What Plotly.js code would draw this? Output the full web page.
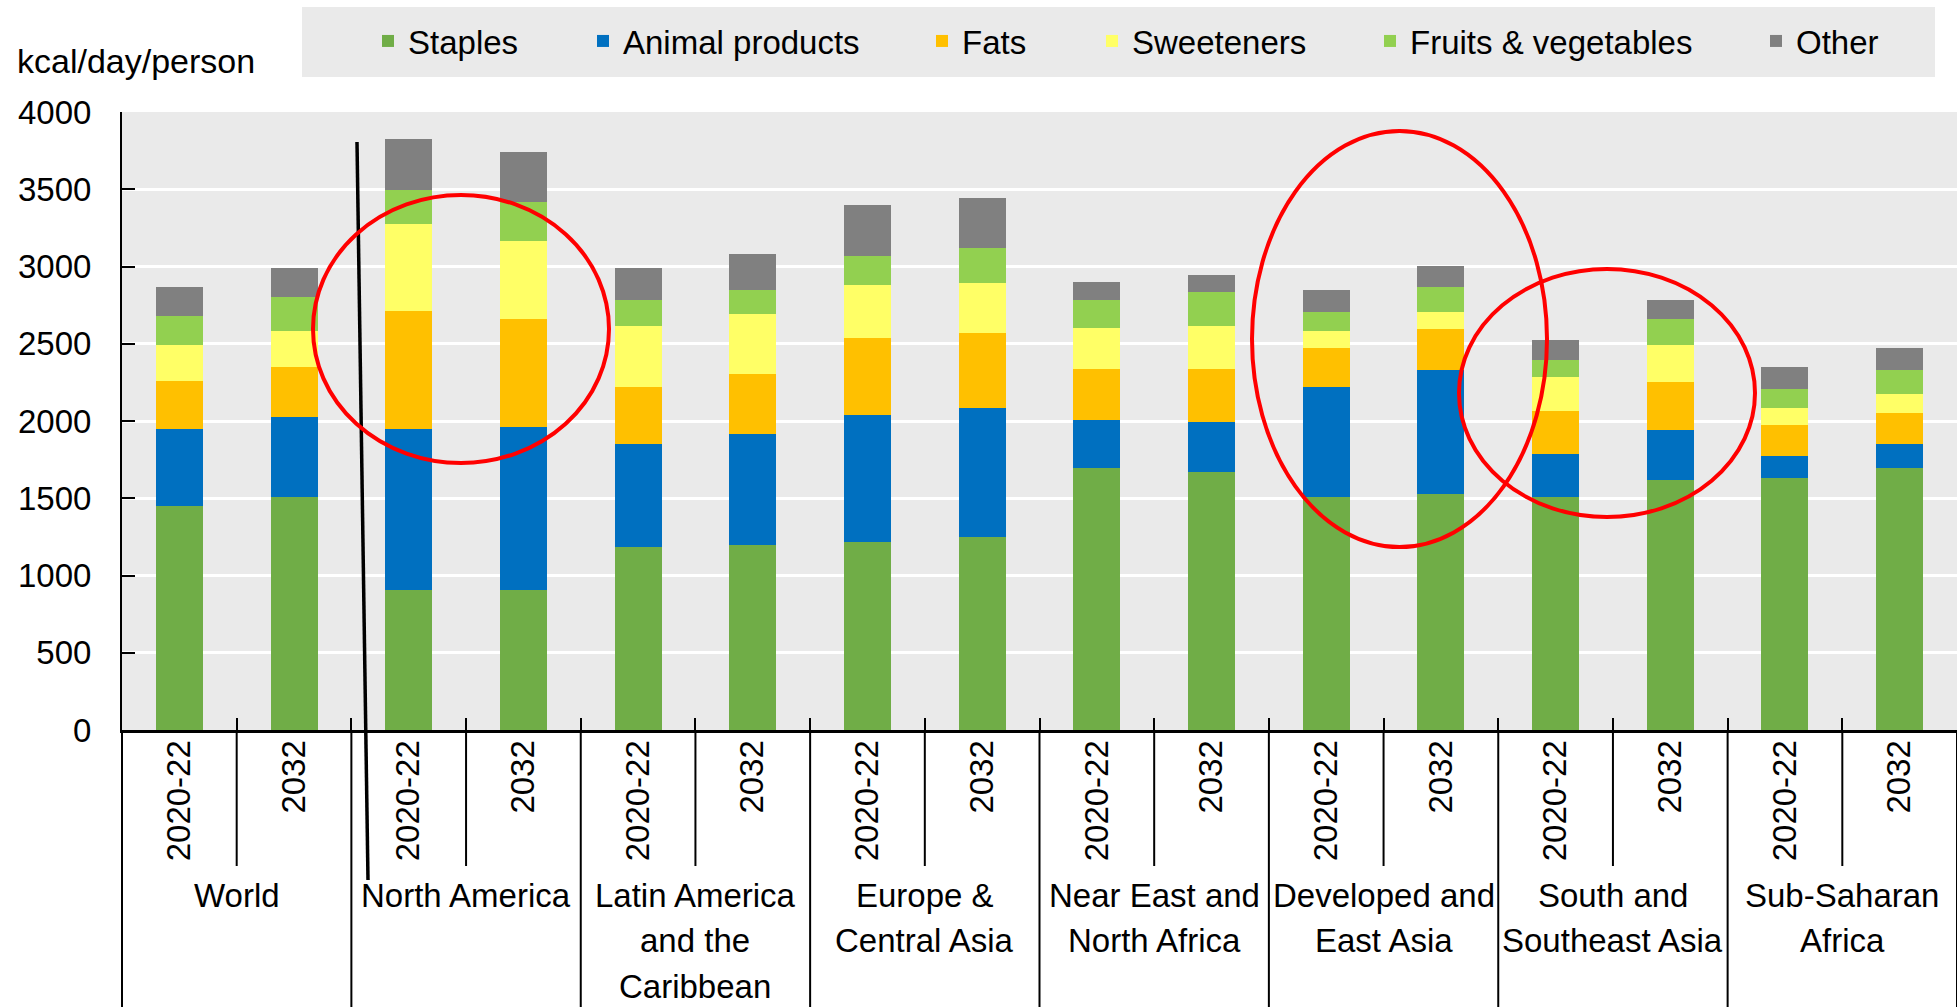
<!DOCTYPE html>
<html>
<head>
<meta charset="utf-8">
<script src="https://cdn.plot.ly/plotly-3.0.1.min.js"></script>
<style>html,body{margin:0;padding:0;background:#fff;}#chart{width:1957px;height:1007px;}</style>
</head>
<body>
<div id="chart"></div>
<script>
// ---- data ----
const regions = ['World','North America','Latin America<br>and the<br>Caribbean','Europe &<br>Central Asia','Near East and<br>North Africa','Developed and<br>East Asia','South and<br>Southeast Asia','Sub-Saharan<br>Africa'];
const periods = ['2020-22','2032'];
const seriesNames = ['Staples','Animal products','Fats','Sweeteners','Fruits & vegetables','Other'];
const staples = [1450,1510, 903,903, 1187,1200, 1215,1247, 1698,1667, 1510,1527, 1510,1619, 1634,1699];
const animal  = [498,516, 1043,1058, 667,713, 823,839, 308,325, 713,806, 279,326, 141,152];
const fats    = [310,325, 764,702, 369,390, 499,483, 329,343, 249,264, 278,310, 201,204];
const sweet   = [234,234, 564,503, 392,390, 344,325, 265,280, 110,111, 219,236, 108,120];
const fruits  = [188,219, 221,251, 171,158, 188,223, 186,218, 126,158, 110,171, 124,158];
const other   = [190,188, 329,327, 205,233, 329,329, 112,111, 140,140, 126,124, 140,139];
const yTicks = [0,500,1000,1500,2000,2500,3000,3500,4000];

// ---- styles ----
const colors = ['#70AD47','#0070C0','#FFC000','#FFFF66','#92D050','#808080'];
const FONT = "'Liberation Sans',Arial,sans-serif";
const FS = 33;
const W = 1957, H = 1007;
const L = 122, R = 0, T = 112, B = 277;
const PW = W - L - R, PH = H - T - B;
const px2x = p => (p - L) / PW;
const py2y = p => (H - B - p) / PH;

// unique category keys (region | period), shown with the period as tick text
const keys = [], keyText = [];
regions.forEach(r => periods.forEach(p => { keys.push(r + '|' + p); keyText.push(p); }));

const values = [staples, animal, fats, sweet, fruits, other];
const legendCenters = [388, 603, 942, 1112, 1390, 1776];
const traces = values.map((v, i) => ({
  type: 'bar',
  name: seriesNames[i],
  x: keys,
  y: v,
  marker: {color: colors[i], line: {width: 0}},
  legend: i === 0 ? 'legend' : 'legend' + (i + 1),
  hoverinfo: 'name+y'
}));

const layout = {
  width: W, height: H,
  margin: {l: L, r: R, t: T, b: B, pad: 0},
  paper_bgcolor: '#ffffff',
  plot_bgcolor: '#EAEAEA',
  barmode: 'stack',
  bargap: 0.59,
  showlegend: true,
  font: {family: FONT, size: FS, color: '#000'},
  xaxis: {
    type: 'category',
    tickvals: keys, ticktext: keyText,
    tickson: 'boundaries',
    showline: true, linecolor: '#000', linewidth: 3,
    ticks: 'inside', ticklen: 12, tickwidth: 2, tickcolor: '#000',
    tickangle: -90,
    ticklabelstandoff: -6,
    tickfont: {family: FONT, size: FS, color: '#000'},
    showgrid: false, zeroline: false
  },
  yaxis: {
    range: [0, 4000], tickvals: yTicks, ticktext: yTicks.map(String),
    showline: true, linecolor: '#000', linewidth: 2,
    ticks: 'inside', ticklen: 13, tickwidth: 2, tickcolor: '#000',
    gridcolor: '#ffffff', gridwidth: 3,
    zeroline: false,
    ticklabelstandoff: 22,
    tickfont: {family: FONT, size: FS, color: '#000'}
  },
  annotations: [{
    xref: 'paper', yref: 'paper', x: px2x(15), y: py2y(61),
    xanchor: 'left', yanchor: 'middle', showarrow: false,
    text: 'kcal/day/person', font: {family: FONT, size: 34, color: '#000'}
  }],
  shapes: []
};

// region (group) labels under each pair of bars
regions.forEach((r, g) => {
  r.split('<br>').forEach((line, j) => {
    layout.annotations.push({
      xref: 'x', yref: 'paper', x: g * periods.length + (periods.length - 1) / 2,
      y: py2y(895 + 45.5 * j), xanchor: 'center', yanchor: 'middle', showarrow: false,
      text: line, font: {family: FONT, size: FS, color: '#000'}
    });
  });
});

// legends
legendCenters.forEach((c, i) => {
  const key = i === 0 ? 'legend' : 'legend' + (i + 1);
  layout[key] = {
    xref: 'container', yref: 'container',
    x: (c - 20) / W, y: 1 - 41 / H,
    xanchor: 'left', yanchor: 'middle',
    orientation: 'h', bgcolor: 'rgba(0,0,0,0)', borderwidth: 0,
    font: {family: FONT, size: FS, color: '#000'}
  };
});

// legend background
layout.shapes.push({type: 'rect', xref: 'paper', yref: 'paper', layer: 'below',
  x0: px2x(302), x1: px2x(1935), y0: py2y(77), y1: py2y(7),
  fillcolor: '#EAEAEA', line: {width: 0}});

// category boundary lines below axis
const n = keys.length;
for (let k = 0; k <= n; k++) {
  const xp = k / n;
  const isGroup = (k % periods.length === 0);
  layout.shapes.push({type: 'line', xref: 'paper', yref: 'paper',
    x0: xp, x1: xp, y0: 0, y1: isGroup ? py2y(H + 5) : py2y(866),
    line: {color: '#000', width: 2}});
}

// hand-drawn highlight marks
layout.shapes.push({type: 'line', xref: 'paper', yref: 'paper',
  x0: px2x(357), y0: py2y(142), x1: px2x(368), y1: py2y(880),
  line: {color: '#000', width: 3.5}});
const ellipses = [[313, 195, 609, 463], [1252, 131, 1547, 547], [1459, 269, 1755, 517]];
ellipses.forEach(e => layout.shapes.push({type: 'circle', xref: 'paper', yref: 'paper',
  x0: px2x(e[0]), x1: px2x(e[2]), y0: py2y(e[3]), y1: py2y(e[1]),
  line: {color: '#FF0000', width: 4}}));

Plotly.newPlot('chart', traces, layout, {displayModeBar: false, responsive: false});
</script>
</body>
</html>
